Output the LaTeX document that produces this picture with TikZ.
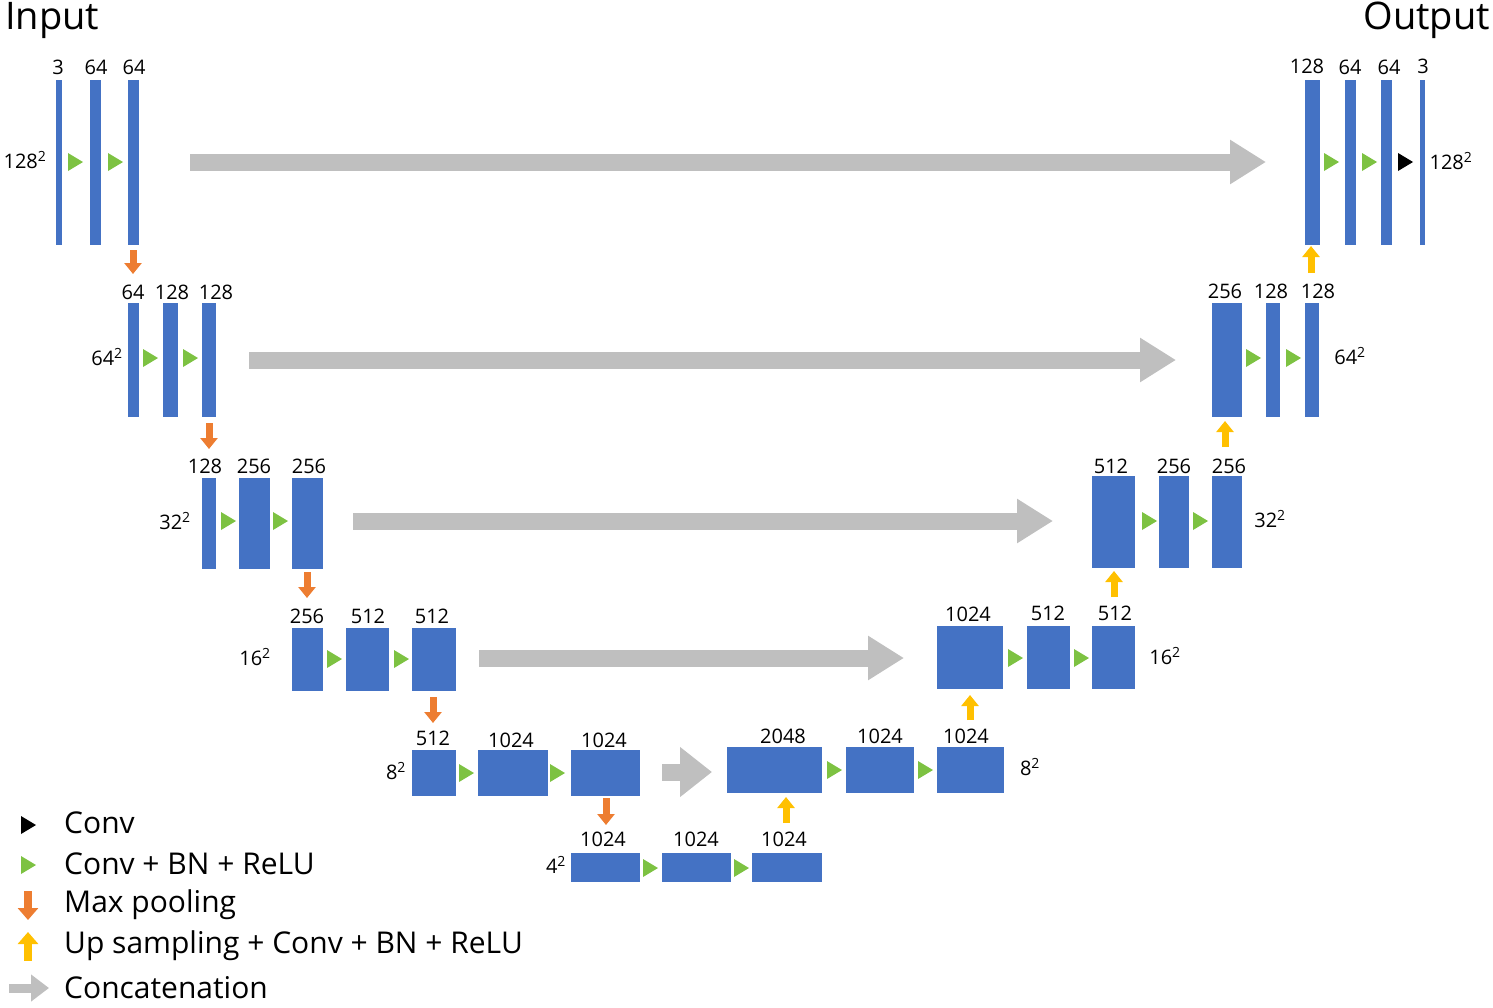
\documentclass[tikz,border=0pt]{standalone}
\usepackage{fontspec}
\setmainfont{Open Sans}
\usetikzlibrary{arrows.meta}
\definecolor{blu}{HTML}{4472C4}
\definecolor{grn}{HTML}{7DC242}
\definecolor{org}{HTML}{ED7D31}
\definecolor{yel}{HTML}{FFC000}
\definecolor{gry}{HTML}{BFBFBF}
\tikzset{
 blk/.style={fill=blu,draw=none,inner sep=0pt,outer sep=0pt,rectangle},
 lab/.style={inner sep=0pt,font=\fontsize{20}{22}\selectfont},
 leg/.style={inner sep=0pt,anchor=west,font=\fontsize{30}{32}\selectfont},
 cat/.style={draw=gry,line width=17pt,-{Triangle[length=36pt,width=42pt]}},
 catS/.style={draw=gry,line width=17pt,-{Triangle[length=32pt,width=48pt]}},
 pool/.style={draw=org,line width=7pt,-{Triangle[length=11pt,width=17pt]}},
 up/.style={draw=yel,line width=7pt,-{Triangle[length=11pt,width=17pt]}},
}
\newcommand\blk[5]{\node[blk,minimum width={#3-#2},minimum height={#5-#4}] (#1) at ({(#2+#3)/2},{(#4+#5)/2}) {};}
\newcommand\tri[3]{\fill[#3] (#1-7,#2-9) -- (#1+8,#2) -- (#1-7,#2+9) -- cycle;}
\newcommand\sq[1]{#1\textsuperscript{2}}
\begin{document}
\begin{tikzpicture}[x=1pt,y=-1pt]
\useasboundingbox (0,0) rectangle (1493,1007);
\node[inner sep=0,anchor=west,font=\fontsize{38}{40}\selectfont] (tin) at (5,20) {Input};
\node[inner sep=0,anchor=east,font=\fontsize{38}{40}\selectfont] (tout) at (1490,20) {Output};
% row 1
\blk{a1}{56}{62}{80}{245}\blk{a2}{90}{101}{80}{245}\blk{a3}{128}{139}{80}{245}
\node[lab] at (58,67){3};\node[lab] at (96,67){64};\node[lab] at (134,67){64};
\node[lab] at (25,160){\sq{128}};
\tri{75}{162}{grn}\tri{115}{162}{grn}
\blk{b1}{1305}{1320}{80}{245}\blk{b2}{1345}{1356}{80}{245}\blk{b3}{1381}{1392}{80}{245}\blk{b4}{1420}{1425}{80}{245}
\node[lab] at (1307,66){128};\node[lab] at (1350,67){64};\node[lab] at (1389,67){64};\node[lab] at (1423,66){3};
\node[lab] at (1451,161){\sq{128}};
\tri{1331}{162}{grn}\tri{1369}{162}{grn}\tri{1405}{162}{black}
\coordinate (c1s) at (190,162);\coordinate (c1e) at (1266,162);
\draw[cat] (c1s) -- (c1e);
% row 2
\blk{a4}{128}{139}{303}{417}\blk{a5}{163}{178}{303}{417}\blk{a6}{202}{216}{303}{417}
\node[lab] at (133,292){64};\node[lab] at (172,292){128};\node[lab] at (216,292){128};
\node[lab] at (107,357){\sq{64}};
\tri{150}{358}{grn}\tri{190}{358}{grn}
\blk{b5}{1212}{1242}{303}{417}\blk{b6}{1266}{1280}{303}{417}\blk{b7}{1305}{1319}{303}{417}
\node[lab] at (1225,291){256};\node[lab] at (1271,291){128};\node[lab] at (1318,291){128};
\node[lab] at (1350,356){\sq{64}};
\tri{1253}{358}{grn}\tri{1293}{358}{grn}
\coordinate (c2s) at (249,360);\coordinate (c2e) at (1176,360);
\draw[cat] (c2s) -- (c2e);
% row 3
\blk{a7}{202}{216}{478}{569}\blk{a8}{239}{270}{478}{569}\blk{a9}{292}{323}{478}{569}
\node[lab] at (205,466){128};\node[lab] at (254,466){256};\node[lab] at (309,466){256};
\node[lab] at (175,521){\sq{32}};
\tri{228}{521}{grn}\tri{280}{521}{grn}
\blk{b8}{1092}{1135}{476}{568}\blk{b9}{1159}{1189}{476}{568}\blk{b10}{1212}{1242}{476}{568}
\node[lab] at (1111,466){512};\node[lab] at (1174,466){256};\node[lab] at (1229,466){256};
\node[lab] at (1270,519){\sq{32}};
\tri{1149}{521}{grn}\tri{1200}{521}{grn}
\coordinate (c3s) at (353,521);\coordinate (c3e) at (1053,521);
\draw[cat] (c3s) -- (c3e);
% row 4
\blk{a10}{292}{323}{628}{691}\blk{a11}{346}{389}{628}{691}\blk{a12}{412}{456}{628}{691}
\node[lab] at (307,616){256};\node[lab] at (368,616){512};\node[lab] at (432,616){512};
\node[lab] at (255,657){\sq{16}};
\tri{334}{659}{grn}\tri{401}{659}{grn}
\blk{b11}{937}{1003}{626}{689}\blk{b12}{1027}{1070}{626}{689}\blk{b13}{1092}{1135}{626}{689}
\node[lab] at (968,614){1024};\node[lab] at (1048,613){512};\node[lab] at (1115,613){512};
\node[lab] at (1165,656){\sq{16}};
\tri{1015}{658}{grn}\tri{1081}{658}{grn}
\coordinate (c4s) at (479,658);\coordinate (c4e) at (904,658);
\draw[cat] (c4s) -- (c4e);
% row 5
\blk{a13}{412}{456}{750}{796}\blk{a14}{478}{548}{750}{796}\blk{a15}{571}{640}{750}{796}
\node[lab] at (433,738){512};\node[lab] at (511,740){1024};\node[lab] at (604,740){1024};
\node[lab] at (396,771){\sq{8}};
\tri{466}{773}{grn}\tri{557}{773}{grn}
\blk{b14}{727}{822}{747}{793}\blk{b15}{846}{914}{747}{793}\blk{b16}{937}{1004}{747}{793}
\node[lab] at (783,736){2048};\node[lab] at (880,736){1024};\node[lab] at (966,736){1024};
\node[lab] at (1030,767){\sq{8}};
\tri{834}{770}{grn}\tri{925}{770}{grn}
\coordinate (c5s) at (662,772);\coordinate (c5e) at (712,772);
\draw[catS] (c5s) -- (c5e);
% row 6
\blk{d1}{571}{640}{853}{882}\blk{d2}{662}{731}{853}{882}\blk{d3}{752}{822}{853}{882}
\node[lab] at (603,839){1024};\node[lab] at (696,839){1024};\node[lab] at (784,839){1024};
\node[lab] at (556,865){\sq{4}};
\tri{650}{868}{grn}\tri{741}{868}{grn}
% pooling arrows
\draw[pool] (133,250) -- (133,274);
\draw[pool] (209,423) -- (209,449);
\draw[pool] (307,572) -- (307,598);
\draw[pool] (433,697) -- (433,723);
\draw[pool] (606,798) -- (606,825);
% up arrows
\draw[up] (786,823) -- (786,797);
\draw[up] (970,720) -- (970,695);
\draw[up] (1114,597) -- (1114,571);
\draw[up] (1225,447) -- (1225,421);
\draw[up] (1311,273) -- (1311,246);
% legend
\tri{28}{825}{black}
\tri{28}{865}{grn}
\draw[org,line width=8pt,-{Triangle[length=12pt,width=20pt]}] (28,891) -- (28,920);
\draw[yel,line width=8pt,-{Triangle[length=12pt,width=20pt]}] (28,961) -- (28,932);
\draw[gry,line width=9pt,-{Triangle[length=18pt,width=26pt]}] (9,988) -- (49,988);
\node[leg] (l1) at (64,823){Conv};
\node[leg] (l2) at (64,864){Conv + BN + ReLU};
\node[leg] (l3) at (64,905){Max pooling};
\node[leg] (l4) at (64,946){Up sampling + Conv + BN + ReLU};
\node[leg] (l5) at (64,988){Concatenation};
\end{tikzpicture}
\end{document}
